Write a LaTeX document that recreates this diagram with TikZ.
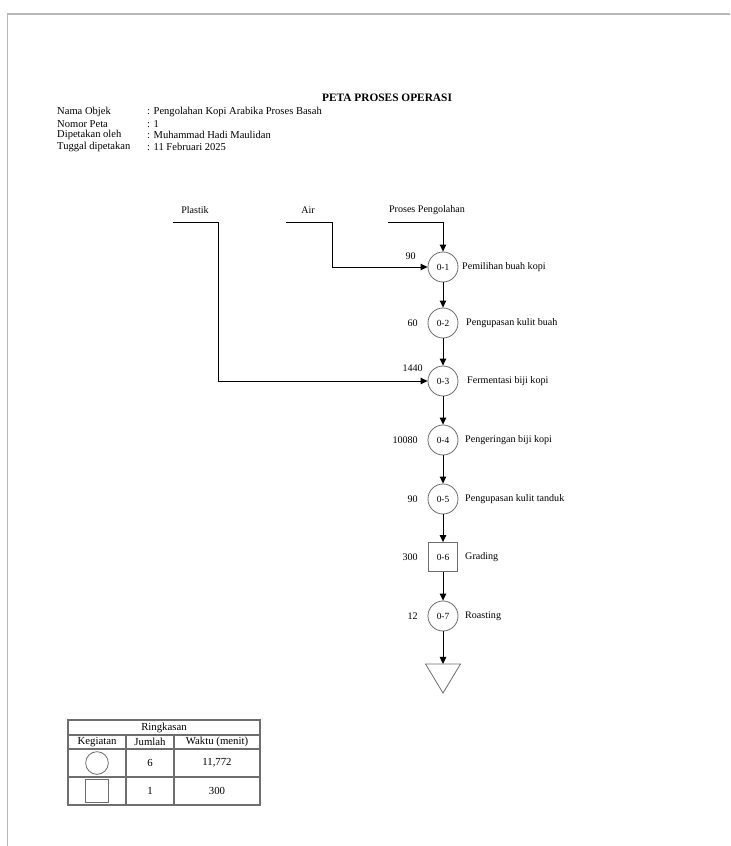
\documentclass[tikz,border=0pt]{standalone}
\usepackage{fontspec}
\setmainfont{Liberation Serif}
\usetikzlibrary{arrows.meta}
\definecolor{pagegray}{HTML}{b8b8b8}
\definecolor{symgray}{HTML}{6e6e6e}

\begin{document}
\begin{tikzpicture}[x=0.03cm,y=-0.03cm,
  txt/.style={font=\fontsize{8.6}{9}\selectfont,inner sep=0pt},
  info/.style={font=\fontsize{9}{10}\selectfont,inner sep=0pt,anchor=west},
  tbl/.style={font=\fontsize{9.2}{10}\selectfont,inner sep=0pt},
  opcircle/.style={draw=symgray,line width=0.7pt,circle,minimum size=0.9cm,inner sep=0pt,font=\fontsize{8}{8}\selectfont},
  opsquare/.style={draw=symgray,line width=0.7pt,rectangle,minimum size=0.87cm,inner sep=0pt,font=\fontsize{8}{8}\selectfont},
  flow/.style={line width=0.8pt,-{Triangle[length=6pt,width=5.5pt]}},
  grid/.style={symgray,line width=0.9pt}]
  \useasboundingbox (0,0) rectangle (730,846);
  % page edge
  \draw[pagegray,line width=1.2pt] (730,14) -- (7.5,14) -- (7.5,846);

  % header
  \node[font=\fontsize{9.7}{10}\selectfont\bfseries,inner sep=0pt] (title) at (387,98) {PETA PROSES OPERASI};
  \node[info] (k1) at (57,112) {Nama Objek};
  \node[info] (k2) at (57,123.7) {Nomor Peta};
  \node[info] (k3) at (57,135.4) {Dipetakan oleh};
  \node[info] (k4) at (57,147.1) {Tuggal dipetakan};
  \node[info] (v1) at (147,112) {: Pengolahan Kopi Arabika Proses Basah};
  \node[info] (v2) at (147,123.7) {: 1};
  \node[info] (v3) at (147,135.4) {: Muhammad Hadi Maulidan};
  \node[info] (v4) at (147,147.1) {: 11 Februari 2025};

  % inputs
  \node[txt] (plastik) at (195,210) {Plastik};
  \node[txt] (air) at (308,210) {Air};
  \node[txt] (proses) at (427,210) {Proses Pengolahan};
  \coordinate (plastikin) at (173,222);
  \coordinate (airin) at (286,222);
  \coordinate (prosesin) at (388,222);

  % operations
  \node[opcircle] (o1) at (443,267) {0-1};
  \node[opcircle] (o2) at (443,323) {0-2};
  \node[opcircle] (o3) at (443,381) {0-3};
  \node[opcircle] (o4) at (443,440) {0-4};
  \node[opcircle] (o5) at (443,499) {0-5};
  \node[opsquare] (o6) at (443,557) {0-6};
  \node[opcircle] (o7) at (443,616) {0-7};
  \coordinate (store) at (443,664);
  \draw[symgray,line width=0.7pt] (425.5,664) -- (460.5,664) -- (443,693) -- cycle;

  % times
  \node[txt,anchor=east] (t1) at (416,256) {90};
  \node[txt,anchor=east] (t2) at (418,323) {60};
  \node[txt,anchor=east] (t3) at (423,368) {1440};
  \node[txt,anchor=east] (t4) at (418,440) {10080};
  \node[txt,anchor=east] (t5) at (418,499) {90};
  \node[txt,anchor=east] (t6) at (418,557) {300};
  \node[txt,anchor=east] (t7) at (418,616) {12};

  % descriptions
  \node[txt,anchor=west] (d1) at (462,267) {Pemilihan buah kopi};
  \node[txt,anchor=west] (d2) at (466,323) {Pengupasan kulit buah};
  \node[txt,anchor=west] (d3) at (467,381) {Fermentasi biji kopi};
  \node[txt,anchor=west] (d4) at (465,440) {Pengeringan biji kopi};
  \node[txt,anchor=west] (d5) at (465,499) {Pengupasan kulit tanduk};
  \node[txt,anchor=west] (d6) at (465,557) {Grading};
  \node[txt,anchor=west] (d7) at (465,616) {Roasting};

  % connectors
  \draw[flow] (prosesin) -| (o1);
  \draw[flow] (airin) -| (332,267) -- (o1);
  \draw[flow] (plastikin) -| (218,381) -- (o3);
  \draw[flow] (o1) -- (o2);
  \draw[flow] (o2) -- (o3);
  \draw[flow] (o3) -- (o4);
  \draw[flow] (o4) -- (o5);
  \draw[flow] (o5) -- (o6);
  \draw[flow] (o6) -- (o7);
  \draw[flow] (o7) -- (store);

  % summary table
  \draw[grid] (68,720) rectangle (260,805);
  \draw[grid] (68,735) -- (260,735);
  \draw[grid] (68,749) -- (260,749);
  \draw[grid] (68,777) -- (260,777);
  \draw[grid] (126,735) -- (126,805);
  \draw[grid] (174,735) -- (174,805);
  \node[tbl] (ringkasan) at (164,727.5) {Ringkasan};
  \node[tbl] (hkeg) at (97,742) {Kegiatan};
  \node[tbl] (hjum) at (150,742) {Jumlah};
  \node[tbl] (hwak) at (217,742) {Waktu (menit)};
  \node[draw=symgray,line width=0.7pt,circle,minimum size=0.68cm,inner sep=0pt] (symop) at (97,763) {};
  \node[draw=symgray,line width=0.7pt,rectangle,minimum size=0.68cm,inner sep=0pt] (symin) at (97,791) {};
  \node[tbl] (nop) at (150,763) {6};
  \node[tbl] (wop) at (217,763) {11,772};
  \node[tbl] (nin) at (150,791) {1};
  \node[tbl] (win) at (217,791) {300};
\end{tikzpicture}
\end{document}
